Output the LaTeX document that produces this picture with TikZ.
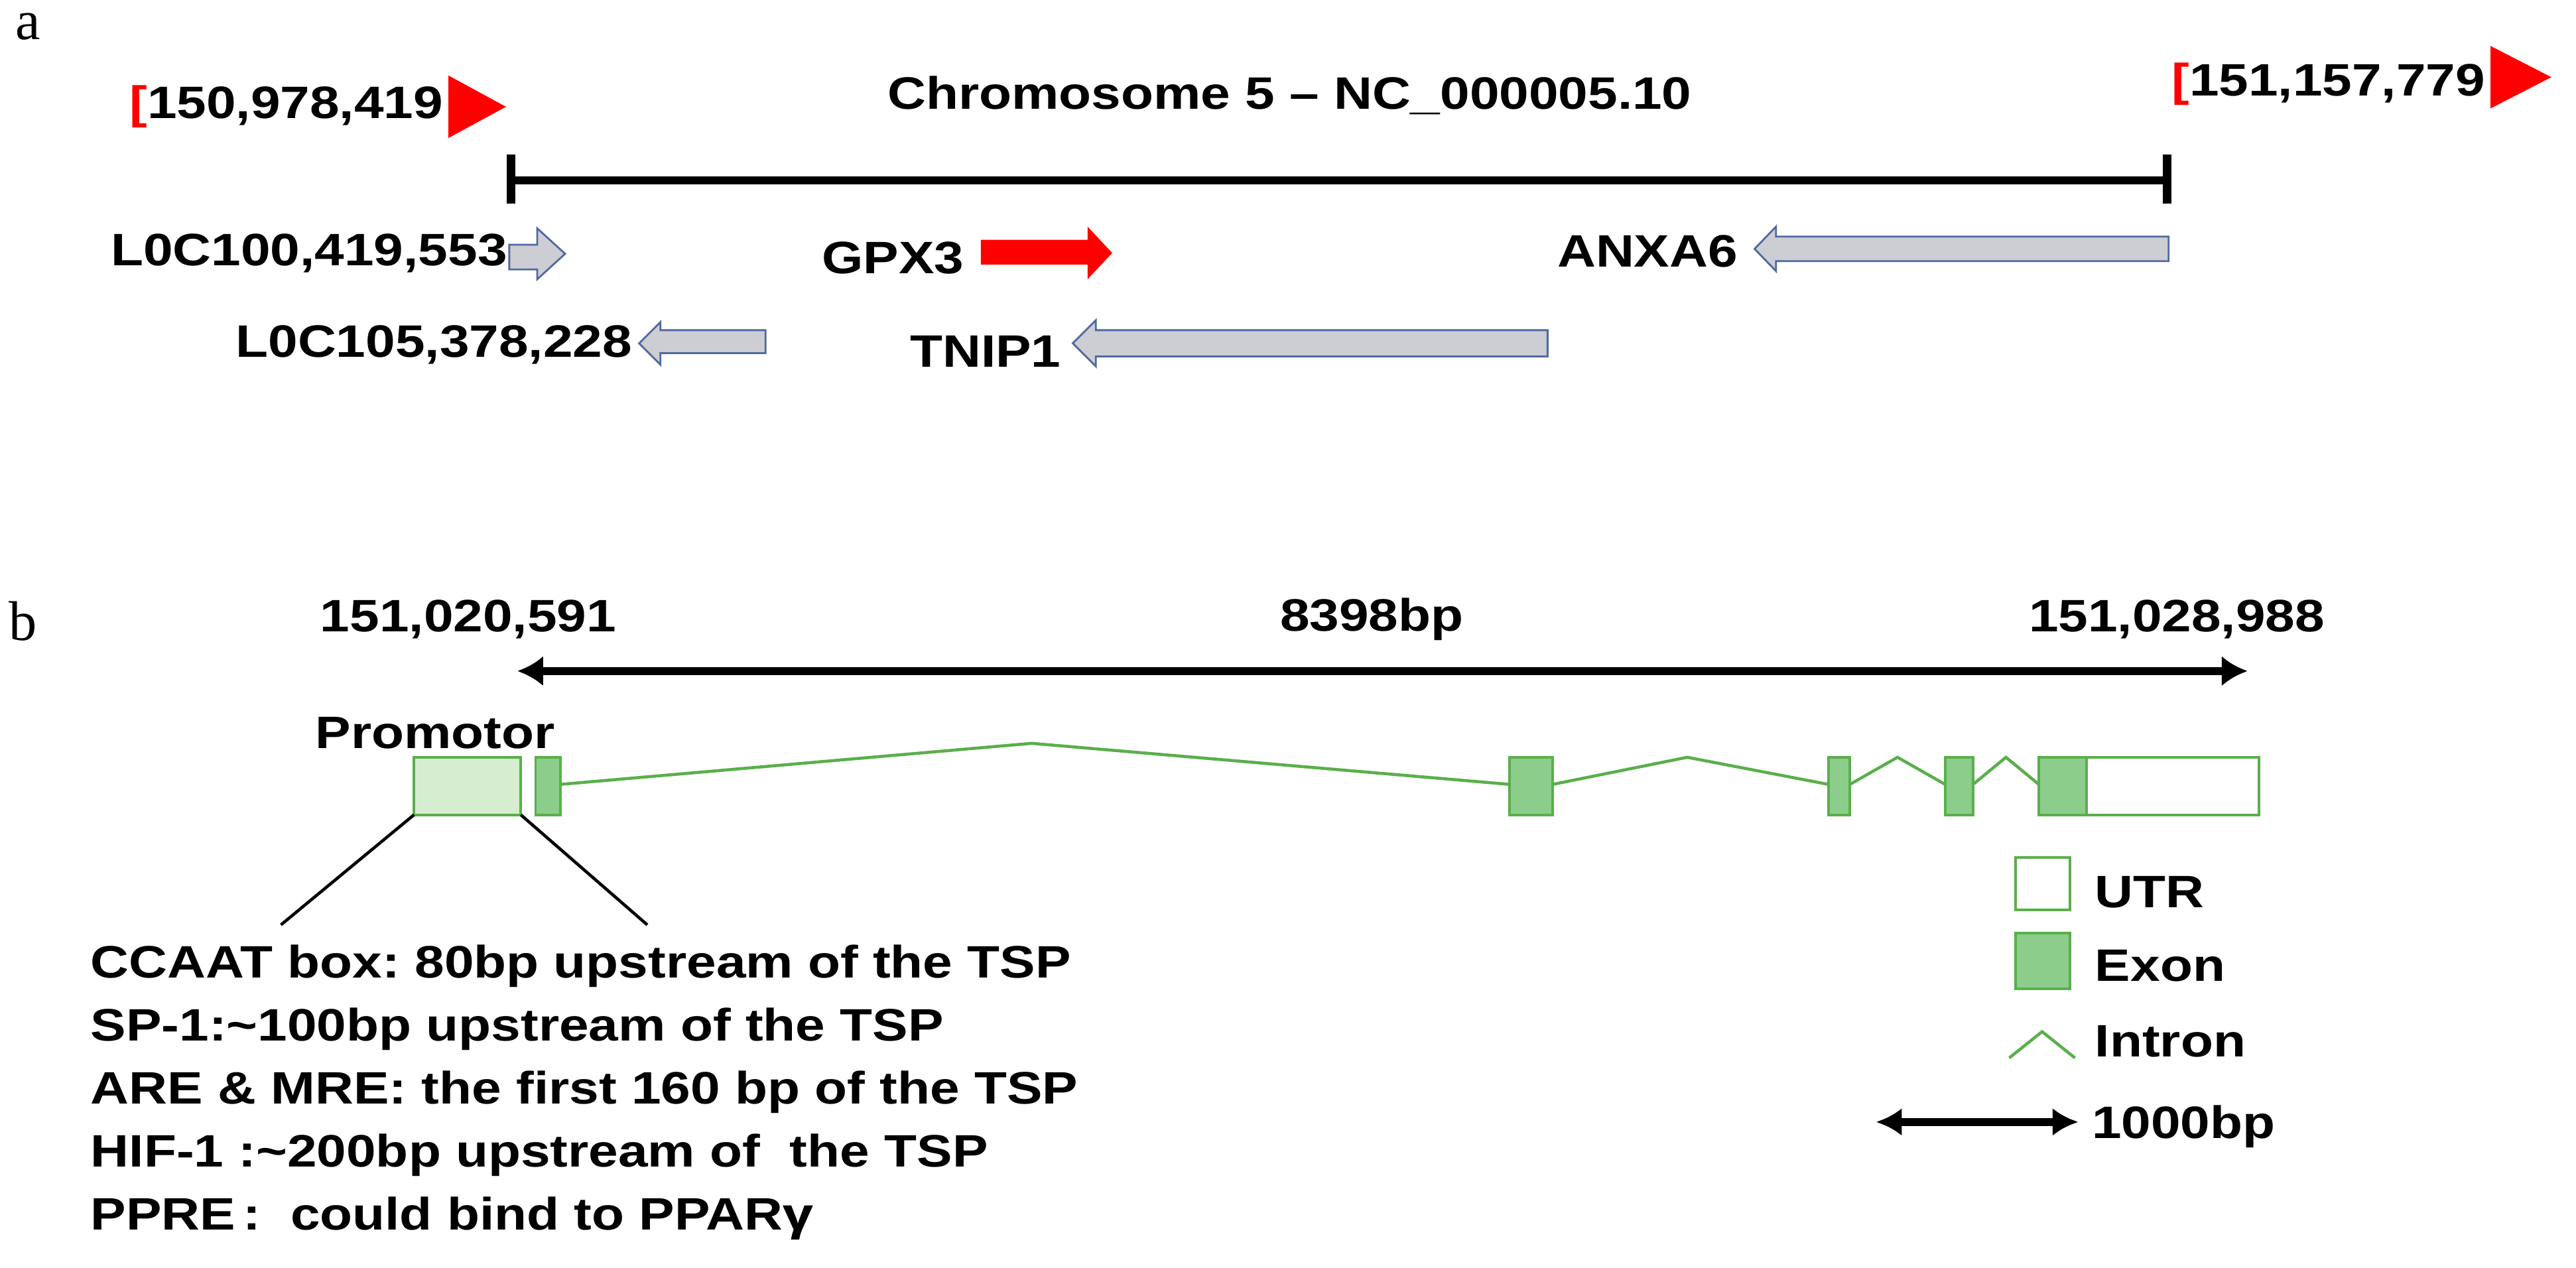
\documentclass[tikz,border=0pt]{standalone}
\usepackage{fontspec}
\setmainfont{Liberation Sans}[FakeStretch=1.17]
\newfontfamily\serifl{Liberation Serif}
\usetikzlibrary{arrows.meta}
\definecolor{gfill}{RGB}{140,205,140}
\definecolor{gline}{RGB}{90,175,75}
\definecolor{lfill}{RGB}{214,237,208}
\definecolor{garrow}{RGB}{205,205,212}
\definecolor{barrow}{RGB}{80,105,160}
\newcommand\genearrow[8]{% style, tip, base, end, body1, body2, head1, head2
  \path[#1] (#4,#5) -- (#3,#5) -- (#3,#7) -- (#2,{(#7+#8)/2}) -- (#3,#8) -- (#3,#6) -- (#4,#6) -- cycle;}
\begin{document}
\begin{tikzpicture}[x=0.02477cm,y=-0.02477cm,
  lab/.style={font=\fontsize{19.5}{27}\selectfont\bfseries,inner sep=0pt},
  plab/.style={font=\serifl\fontsize{24}{26}\selectfont,inner sep=0pt},
  exonbox/.style={draw=gline,fill=gfill,line width=1.1pt},
  intr/.style={draw=gline,line width=1.3pt},
  gar/.style={draw=barrow,fill=garrow,line width=0.8pt},
  rar/.style={fill=red},
]
\useasboundingbox (0,0) rectangle (1568,771.5);
% panel a
\node[plab] (pa) at (17,16) {a};
\node[lab,anchor=east] (s1) at (270,65) {\textcolor{red}{[}150,978,419};
\fill[red] (273,46) -- (308,65) -- (273,84) -- cycle;
\node[lab] (title) at (785,58) {Chromosome 5 -- NC\_000005.10};
\node[lab,anchor=east] (s2) at (1513,51) {\textcolor{red}{[}151,157,779};
\fill[red] (1516,28) -- (1553,47) -- (1516,66) -- cycle;
\coordinate (cl) at (311,110); \coordinate (cr) at (1319,110);
\draw[line width=3.4pt] (cl) -- (cr);
\draw[line width=3.6pt] (311,94) -- (311,124) (1319,94) -- (1319,124);
\node[lab,anchor=east] (l1) at (309,154) {L0C100,419,553};
\genearrow{gar}{344}{327}{310}{149}{164}{139}{170}
\node[lab,anchor=east] (g3) at (587,157) {GPX3};
\genearrow{rar}{677}{662}{597}{146}{161}{138}{170}
\node[lab,anchor=east] (ax) at (1058,153) {ANXA6};
\genearrow{gar}{1068}{1081}{1320}{144}{159}{138}{165}
\node[lab,anchor=east] (l2) at (385,210) {L0C105,378,228};
\genearrow{gar}{389}{402}{466}{201}{215}{196}{222}
\node[lab,anchor=east] (tn) at (646,214) {TNIP1};
\genearrow{gar}{653}{667}{942}{201}{217}{195}{223}
% panel b
\node[plab] (pb) at (14,378) {b};
\node[lab] (p1) at (285,377) {151,020,591};
\node[lab] (p2) at (835,377) {8398bp};
\node[lab] (p3) at (1325,377) {151,028,988};
\coordinate (bl) at (315,408.5); \coordinate (br) at (1368,408.5);
\draw[line width=3.5pt,{Latex[length=11pt,width=13pt]}-{Latex[length=11pt,width=13pt]}] (bl) -- (br);
\node[lab] (pr) at (265,446) {Promotor};
\draw[draw=gline,fill=lfill,line width=1.1pt] (252,461) rectangle (317,496);
\draw[exonbox] (326,461) rectangle (341,496);
\draw[exonbox] (919,461) rectangle (945,496);
\draw[exonbox] (1113,461) rectangle (1126,496);
\draw[exonbox] (1184,461) rectangle (1201,496);
\draw[exonbox] (1241,461) rectangle (1270,496);
\draw[draw=gline,fill=white,line width=1.1pt] (1270,461) rectangle (1375,496);
\coordinate (e1) at (341,477.5); \coordinate (e2a) at (919,477.5); \coordinate (e2b) at (945,477.5);
\coordinate (e3a) at (1113,477.5); \coordinate (e3b) at (1126,477.5);
\coordinate (e4a) at (1184,477.5); \coordinate (e4b) at (1201,477.5); \coordinate (e5a) at (1241,477.5);
\draw[intr] (e1) -- (628,452.5) -- (e2a);
\draw[intr] (e2b) -- (1027,461) -- (e3a);
\draw[intr] (e3b) -- (1155,461) -- (e4a);
\draw[intr] (e4b) -- (1221,461) -- (e5a);
\coordinate (pbl) at (252,496); \coordinate (pbr) at (317,496);
\coordinate (c1) at (171,563); \coordinate (c2) at (394,563);
\draw[line width=1.3pt] (pbl) -- (c1);
\draw[line width=1.3pt] (pbr) -- (c2);
\node[lab,anchor=north west,align=left] (desc) at (55,575) {%
CCAAT box:\ 80bp upstream of the TSP\\
SP-1:\textasciitilde100bp upstream of the TSP\\
ARE \& MRE:\ the first 160 bp of the TSP\\
HIF-1 :\textasciitilde200bp upstream of\ \ the TSP\\
PPRE\,:\ \ could bind to PPAR\fontspec{Liberation Sans}[FakeStretch=1.17,FakeBold=1.5]γ};
% legend
\draw[draw=gline,fill=white,line width=1.1pt] (1227,522) rectangle (1260,554);
\node[lab,anchor=west] (tu) at (1275,543) {UTR};
\draw[exonbox] (1227,568) rectangle (1260,602);
\node[lab,anchor=west] (te) at (1275,588) {Exon};
\coordinate (i1) at (1223,644); \coordinate (i2) at (1263,644);
\draw[intr] (i1) -- (1243,628) -- (i2);
\node[lab,anchor=west] (ti) at (1275,634) {Intron};
\coordinate (k1) at (1142,683); \coordinate (k2) at (1265,683);
\draw[line width=3.5pt,{Latex[length=11pt,width=12pt]}-{Latex[length=11pt,width=12pt]}] (k1) -- (k2);
\node[lab,anchor=west] (tk) at (1273,686) {1000bp};
\end{tikzpicture}
\end{document}
